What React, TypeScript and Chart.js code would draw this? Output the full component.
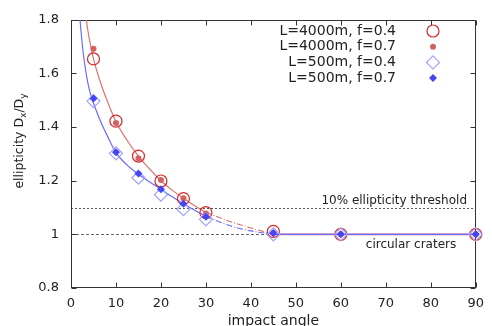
import React, { useEffect, useRef } from 'react';
import { Chart, registerables } from 'chart.js';

Chart.register(...registerables);

// measured impact angles (degrees)
const angles = [5, 10, 15, 20, 25, 30, 45, 60, 90];
// ellipticity Dx/Dy per series
const l4000f04 = [1.654, 1.422, 1.292, 1.199, 1.133, 1.081, 1.011, 1.0, 1.0];
const l4000f07 = [1.692, 1.415, 1.284, 1.203, 1.135, 1.078, 1.006, 1.0, 1.0];
const l500f04 = [1.497, 1.302, 1.211, 1.148, 1.094, 1.056, 1.0, 1.0, 1.0];
const l500f07 = [1.507, 1.306, 1.227, 1.168, 1.114, 1.066, 1.004, 1.0, 1.0];

// fitted curves
const redFitX = [3.4, 4, 5, 6, 7, 8, 10, 12.5, 15, 17.5, 20, 22.5, 25, 27.5, 30];
const redFitY = [1.8, 1.735, 1.655, 1.595, 1.545, 1.5, 1.42, 1.35, 1.292, 1.243, 1.2, 1.165, 1.135, 1.107, 1.082];
const redDashX = [30, 35, 40, 45];
const redDashY = [1.082, 1.05, 1.024, 1.0];
const blueFitX = [2, 2.5, 3, 4, 5, 6, 7, 8, 10, 12.5, 15, 17.5, 20, 22.5, 25, 27.5, 30];
const blueFitY = [1.8, 1.71, 1.64, 1.545, 1.49, 1.445, 1.405, 1.37, 1.305, 1.258, 1.224, 1.195, 1.168, 1.14, 1.114, 1.09, 1.067];
const blueDashX = [30, 35, 40, 45];
const blueDashY = [1.067, 1.034, 1.013, 1.0];
const flatX = [45, 90];
const flatY = [1.0, 1.0];

// reference lines
const thresholdValue = 1.1;
const circularValue = 1.0;

// ticks
const xTickValues = [0, 10, 20, 30, 40, 50, 60, 70, 80, 90];
const xTickLabels = ['0', '10', '20', '30', '40', '50', '60', '70', '80', '90'];
const yTickValues = [0.8, 1.0, 1.2, 1.4, 1.6, 1.8];
const yTickLabels = ['0.8', '1', '1.2', '1.4', '1.6', '1.8'];

// legend labels
const legendLabels = ['L=4000m, f=0.4', 'L=4000m, f=0.7', 'L=500m, f=0.4', 'L=500m, f=0.7'];

const RED_OPEN = '#d62828';
const RED_FILL = '#d46060';
const BLUE_OPEN = '#a0a0ff';
const BLUE_FILL = '#4545f5';
const RED_LINE = '#de7272';
const BLUE_LINE = '#6a6aff';
const FONT = '"DejaVu Sans", sans-serif';

const pts = (xs: number[], ys: number[]) => xs.map((x, i) => ({ x, y: ys[i] }));

function drawSymbol(ctx: CanvasRenderingContext2D, kind: number, x: number, y: number) {
  ctx.save();
  ctx.setLineDash([]);
  if (kind === 0) {
    ctx.strokeStyle = RED_OPEN;
    ctx.lineWidth = 1.2;
    ctx.beginPath();
    ctx.arc(x, y, 6, 0, Math.PI * 2);
    ctx.stroke();
  } else if (kind === 1) {
    ctx.fillStyle = RED_FILL;
    ctx.beginPath();
    ctx.arc(x, y, 3, 0, Math.PI * 2);
    ctx.fill();
  } else if (kind === 2) {
    ctx.strokeStyle = BLUE_OPEN;
    ctx.lineWidth = 1.2;
    ctx.beginPath();
    ctx.moveTo(x - 6.5, y);
    ctx.lineTo(x, y - 6.5);
    ctx.lineTo(x + 6.5, y);
    ctx.lineTo(x, y + 6.5);
    ctx.closePath();
    ctx.stroke();
  } else {
    ctx.fillStyle = BLUE_FILL;
    ctx.beginPath();
    ctx.moveTo(x - 4, y);
    ctx.lineTo(x, y - 4);
    ctx.lineTo(x + 4, y);
    ctx.lineTo(x, y + 4);
    ctx.closePath();
    ctx.fill();
  }
  ctx.restore();
}

const overlay = {
  id: 'overlay',
  beforeDatasetsDraw(chart: any) {
    const { ctx, chartArea, scales } = chart;
    const { left, right, top, bottom } = chartArea;
    const xs = scales.x;
    const ys = scales.y;
    ctx.save();
    // reference lines
    ctx.lineWidth = 1;
    ctx.strokeStyle = '#555';
    ctx.setLineDash([2, 2]);
    const yt = Math.round(ys.getPixelForValue(thresholdValue)) + 0.5;
    ctx.beginPath();
    ctx.moveTo(xs.getPixelForValue(0), yt);
    ctx.lineTo(xs.getPixelForValue(90), yt);
    ctx.stroke();
    ctx.strokeStyle = '#666';
    ctx.setLineDash([3, 2]);
    const yc = Math.round(ys.getPixelForValue(circularValue)) + 0.5;
    ctx.beginPath();
    ctx.moveTo(xs.getPixelForValue(0), yc);
    ctx.lineTo(xs.getPixelForValue(90), yc);
    ctx.stroke();
    // border
    ctx.setLineDash([]);
    ctx.strokeStyle = '#333';
    ctx.lineWidth = 1;
    const l = Math.round(left) + 0.5;
    const r = Math.round(right) - 0.5;
    const t = Math.round(top) + 0.5;
    const b = Math.round(bottom) - 0.5;
    ctx.strokeRect(l, t, r - l, b - t);
    // inward ticks (mirrored)
    const tl = 5;
    ctx.beginPath();
    xTickValues.forEach((v) => {
      const px = Math.round(xs.getPixelForValue(v)) + 0.5;
      ctx.moveTo(px, b);
      ctx.lineTo(px, b - tl);
      ctx.moveTo(px, t);
      ctx.lineTo(px, t + tl);
    });
    yTickValues.forEach((v) => {
      const py = Math.round(ys.getPixelForValue(v)) + 0.5;
      ctx.moveTo(l, py);
      ctx.lineTo(l + tl, py);
      ctx.moveTo(r, py);
      ctx.lineTo(r - tl, py);
    });
    ctx.stroke();
    ctx.restore();
  },
  afterDraw(chart: any) {
    const { ctx, scales } = chart;
    const xs = scales.x;
    const ys = scales.y;
    ctx.save();
    ctx.fillStyle = '#222';
    // annotations
    ctx.font = `12px ${FONT}`;
    ctx.textAlign = 'right';
    ctx.textBaseline = 'alphabetic';
    ctx.fillText('10% ellipticity threshold', 467, ys.getPixelForValue(thresholdValue) - 4);
    ctx.textAlign = 'center';
    ctx.fillText('circular craters', 411, ys.getPixelForValue(circularValue) + 14);
    // legend
    ctx.font = `14px ${FONT}`;
    ctx.textAlign = 'right';
    ctx.textBaseline = 'middle';
    legendLabels.forEach((lab, i) => {
      const y = 31 + i * 15.7;
      ctx.fillStyle = '#222';
      ctx.fillText(lab, 396, y);
      drawSymbol(ctx, i, 433, y);
    });
    // x title
    ctx.fillStyle = '#222';
    ctx.font = `14px ${FONT}`;
    ctx.textAlign = 'center';
    ctx.textBaseline = 'alphabetic';
    ctx.fillText('impact angle', (xs.left + xs.right) / 2, 325);
    // y title with subscripts
    const parts: [string, boolean][] = [['ellipticity D', false], ['x', true], ['/D', false], ['y', true]];
    const big = `12.5px ${FONT}`;
    const small = `9px ${FONT}`;
    let total = 0;
    parts.forEach(([s, sub]) => {
      ctx.font = sub ? small : big;
      total += ctx.measureText(s).width;
    });
    ctx.translate(23, 141);
    ctx.rotate(-Math.PI / 2);
    ctx.textAlign = 'left';
    let cx = -total / 2;
    parts.forEach(([s, sub]) => {
      ctx.font = sub ? small : big;
      ctx.fillText(s, cx, sub ? 3 : 0);
      cx += ctx.measureText(s).width;
    });
    ctx.restore();
  },
};

export default function App() {
  const ref = useRef<HTMLCanvasElement>(null);
  useEffect(() => {
    const canvas = ref.current!;
    const tickFont = { family: FONT, size: 13 };
    const chart = new Chart(canvas, {
      type: 'line',
      data: {
        datasets: [
          {
            label: 'red fit',
            data: pts(redFitX, redFitY),
            borderColor: RED_LINE,
            borderWidth: 1.2,
            pointRadius: 0,
            cubicInterpolationMode: 'monotone',
            order: 20,
          },
          {
            label: 'red fit ext',
            data: pts(redDashX, redDashY),
            borderColor: RED_LINE,
            borderWidth: 1.1,
            borderDash: [6, 2, 1, 2],
            pointRadius: 0,
            cubicInterpolationMode: 'monotone',
            order: 20,
          },
          {
            label: 'blue fit',
            data: pts(blueFitX, blueFitY),
            borderColor: BLUE_LINE,
            borderWidth: 1.2,
            pointRadius: 0,
            cubicInterpolationMode: 'monotone',
            order: 19,
          },
          {
            label: 'blue fit ext',
            data: pts(blueDashX, blueDashY),
            borderColor: BLUE_LINE,
            borderWidth: 1.1,
            borderDash: [6, 2, 1, 2],
            pointRadius: 0,
            cubicInterpolationMode: 'monotone',
            order: 19,
          },
          {
            label: 'red flat',
            data: pts(flatX, flatY),
            borderColor: RED_LINE,
            borderWidth: 1.6,
            pointRadius: 0,
            order: 18,
          },
          {
            label: 'blue flat',
            data: pts(flatX, flatY),
            borderColor: BLUE_LINE,
            borderWidth: 1.1,
            pointRadius: 0,
            order: 17,
          },
          {
            label: legendLabels[0],
            data: pts(angles, l4000f04),
            showLine: false,
            pointStyle: 'circle',
            pointRadius: 6,
            pointBorderWidth: 1.2,
            pointBorderColor: RED_OPEN,
            pointBackgroundColor: 'rgba(0,0,0,0)',
            clip: false,
            order: 4,
          },
          {
            label: legendLabels[1],
            data: pts(angles, l4000f07),
            showLine: false,
            pointStyle: 'circle',
            pointRadius: 3,
            pointBorderWidth: 0,
            pointBorderColor: RED_FILL,
            pointBackgroundColor: RED_FILL,
            clip: false,
            order: 3,
          },
          {
            label: legendLabels[2],
            data: pts(angles, l500f04),
            showLine: false,
            pointStyle: 'rectRot',
            pointRadius: 6.5,
            pointBorderWidth: 1.2,
            pointBorderColor: BLUE_OPEN,
            pointBackgroundColor: 'rgba(0,0,0,0)',
            clip: false,
            order: 2,
          },
          {
            label: legendLabels[3],
            data: pts(angles, l500f07),
            showLine: false,
            pointStyle: 'rectRot',
            pointRadius: 4,
            pointBorderWidth: 0,
            pointBorderColor: BLUE_FILL,
            pointBackgroundColor: BLUE_FILL,
            clip: false,
            order: 1,
          },
        ],
      },
      options: {
        responsive: false,
        animation: false,
        events: [],
        layout: { padding: { top: 19, right: 13, left: 0, bottom: 0 } },
        plugins: { legend: { display: false }, tooltip: { enabled: false } },
        scales: {
          x: {
            type: 'linear',
            min: 0,
            max: 90,
            afterBuildTicks: (s: any) => {
              s.ticks = xTickValues.map((v) => ({ value: v }));
            },
            afterFit: (s: any) => {
              s.height = 38;
            },
            ticks: {
              callback: (_v: any, i: number) => xTickLabels[i],
              font: tickFont,
              color: '#222',
              padding: 8,
              maxRotation: 0,
              autoSkip: false,
            },
            grid: { display: false, drawTicks: false },
            border: { display: false },
          },
          y: {
            type: 'linear',
            min: 0.8,
            max: 1.8,
            afterBuildTicks: (s: any) => {
              s.ticks = yTickValues.map((v) => ({ value: v }));
            },
            afterFit: (s: any) => {
              s.width = 71;
            },
            ticks: {
              callback: (_v: any, i: number) => yTickLabels[i],
              font: tickFont,
              color: '#222',
              padding: 12,
              autoSkip: false,
            },
            grid: { display: false, drawTicks: false },
            border: { display: false },
          },
        },
      },
      plugins: [overlay],
    } as any);
    return () => chart.destroy();
  }, []);
  return (
    <div style={{ position: 'absolute', left: 0, top: 0, width: 492, height: 326, background: '#fff' }}>
      <canvas ref={ref} width={492} height={326} style={{ display: 'block', width: 492, height: 326 }} />
    </div>
  );
}
